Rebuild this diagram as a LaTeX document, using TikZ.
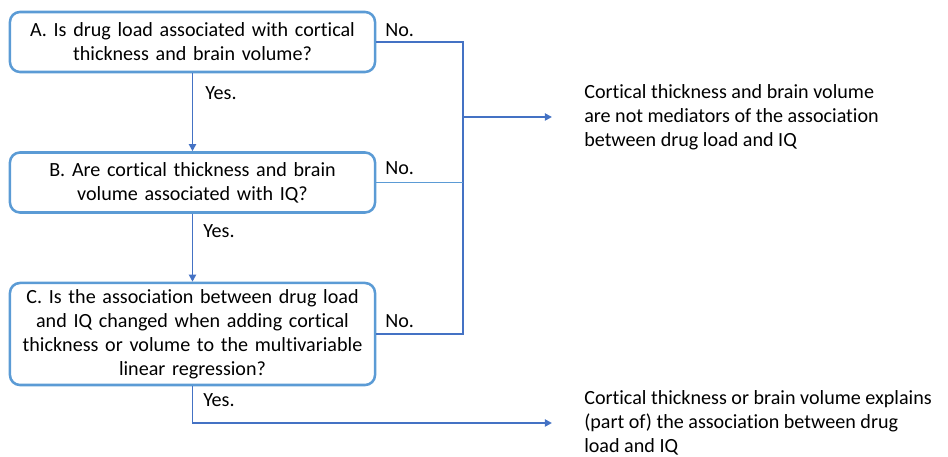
\documentclass[tikz,border=0pt]{standalone}
\usepackage{fontspec}
\setmainfont{Carlito}[Ligatures={NoCommon}]
\usetikzlibrary{arrows.meta}
\definecolor{boxblue}{RGB}{91,155,213}
\definecolor{lineblue}{RGB}{68,114,196}
\begin{document}
\begin{tikzpicture}[x = 0.025cm, y = -0.025cm,
                   every node/.style = {font = \fontsize{14.3}{17}\selectfont},
                   question/.style   = {shape          = rectangle,
                                        rounded corners = 0.25cm,
                                        draw           = boxblue,
                                        line width     = 1.8pt,
                                        minimum width  = 9.125cm,
                                        minimum height = 1.5cm,
                                        text width     = 8.9cm,
                                        align          = center,
                                        inner sep      = 0pt},
                   outcome/.style    = {anchor = west, align = left, inner sep = 0pt},
                   answer/.style     = {inner sep = 0pt},
                   blue edge/.style  = {lineblue, line width = 1.4pt},
                   blue arrow/.style = {blue edge, -{Triangle[length=5pt, width=5pt]}}]
\useasboundingbox (0,0) rectangle (948,457);

% the questions
\node[question] (A) at (192.5, 42) {A. Is drug load associated with cortical\\
                                    thickness and brain volume?};
\node[question] (B) at (192.5,182.5) {B. Are cortical thickness and brain\\
                                      volume associated with IQ?};
\node[question, minimum height = 2.55cm] (C) at (192.5,334)
     {C. Is the association between drug load\\ and IQ changed when adding cortical\\
      thickness or volume to the multivariable\\ linear regression?};

% the outcomes
\node[outcome] (notmed) at (584,117) {Cortical thickness and brain volume\\
                                      are not mediators of the association\\
                                      between drug load and IQ};
\node[outcome] (med) at (584,423) {Cortical thickness or brain volume explains\\
                                   (part of) the association between drug\\
                                   load and IQ};
\coordinate (join) at (463,117);

% answers
\node[answer, anchor = west] (yesA) at (205, 93)  {Yes.};
\node[answer, anchor = west] (yesB) at (203,231)  {Yes.};
\node[answer, anchor = west] (yesC) at (203,400)  {Yes.};
\node[answer, anchor = west] (noA)  at (385, 30)  {No.};
\node[answer, anchor = west] (noB)  at (385,168)  {No.};
\node[answer, anchor = west] (noC)  at (385,321)  {No.};

% edges
\draw[blue arrow] (A) -- (B);
\draw[blue arrow] (B) -- (C);
\draw[blue edge] (A.east) -| (join);
\draw[blue edge] (C.east) -| (join);
\draw[boxblue, line width = 0.7pt] (B.east) -- (B.east -| join);
\draw[blue arrow, shorten >= 0.8cm] (join) -- (notmed.west);
\draw[blue arrow, shorten >= 0.8cm] (C.south) |- (med.west);
\end{tikzpicture}
\end{document}
